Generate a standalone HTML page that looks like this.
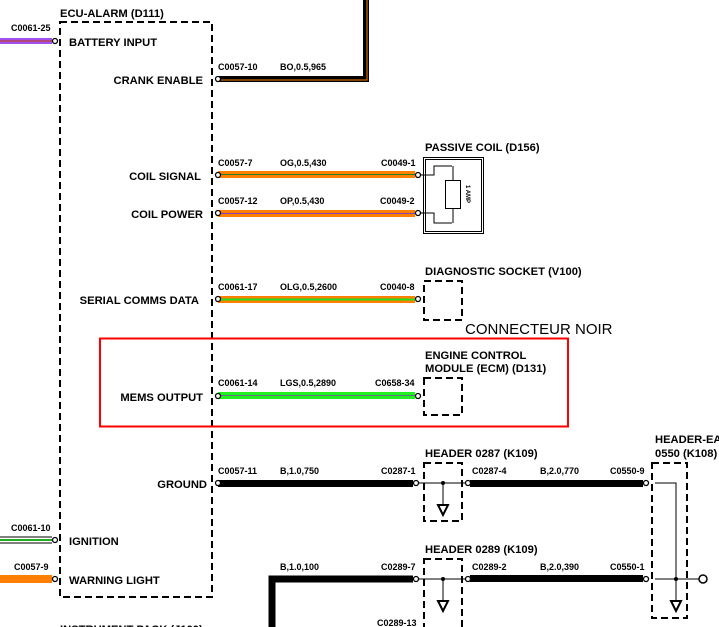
<!DOCTYPE html>
<html><head><meta charset="utf-8"><style>
html,body{margin:0;padding:0;background:#fff;}
svg{display:block;font-family:"Liberation Sans",Arial,sans-serif;font-weight:bold;}
.s{font-size:9px;}
.m{font-size:11.2px;}
</style></head><body>
<svg width="719" height="627" viewBox="0 0 719 627" xmlns="http://www.w3.org/2000/svg">
<g fill="none" stroke="#000" stroke-width="2" stroke-dasharray="7,4">
<rect x="60" y="22" width="152" height="575"/>
<rect x="424" y="281" width="38" height="39"/>
<rect x="424" y="378" width="38" height="37"/>
<rect x="424" y="463" width="38" height="58"/>
<rect x="424" y="559" width="38" height="80"/>
<rect x="652" y="463" width="35" height="155"/>
</g>
<text x="60" y="17" class="m">ECU-ALARM (D111)</text>
<!-- battery -->
<rect x="0" y="38" width="52" height="6" fill="#a050f0"/>
<line x1="0" y1="41" x2="52" y2="41" stroke="#c04000" stroke-width="1"/>
<text x="11" y="31" class="s">C0061-25</text>
<text x="69" y="46" class="m">BATTERY INPUT</text>
<!-- crank -->
<path d="M218 79 H366 V0" fill="none" stroke="#000" stroke-width="6"/>
<path d="M218 80 H367 V0" fill="none" stroke="#ff8000" stroke-width="1"/>
<text x="218" y="70" class="s">C0057-10</text>
<text x="280" y="70" class="s">BO,0.5,965</text>
<text x="203" y="84" class="m" text-anchor="end">CRANK ENABLE</text>
<!-- coil -->
<rect x="218" y="171" width="197" height="7" fill="#ff8000"/>
<line x1="218" y1="174.5" x2="415" y2="174.5" stroke="#208020" stroke-width="1"/>
<rect x="218" y="210" width="197" height="7" fill="#ff8000"/>
<line x1="218" y1="213.5" x2="415" y2="213.5" stroke="#8040c0" stroke-width="1"/>
<text x="218" y="166" class="s">C0057-7</text><text x="280" y="166" class="s">OG,0.5,430</text><text x="381" y="166" class="s">C0049-1</text>
<text x="218" y="204" class="s">C0057-12</text><text x="280" y="204" class="s">OP,0.5,430</text><text x="380" y="204" class="s">C0049-2</text>
<text x="201" y="180" class="m" text-anchor="end">COIL SIGNAL</text>
<text x="203" y="218" class="m" text-anchor="end">COIL POWER</text>
<text x="425" y="151" class="m">PASSIVE COIL (D156)</text>
<rect x="423.5" y="157.5" width="60" height="76" fill="none" stroke="#000"/>
<rect x="425.5" y="159.5" width="56" height="72" fill="none" stroke="#000"/>
<path d="M420 175 H434 V166 H452 M420 213 H434 V223 H452" fill="none" stroke="#000"/>
<rect x="445.5" y="180.5" width="15" height="28" fill="none" stroke="#000"/>
<line x1="453" y1="166" x2="453" y2="180" stroke="#000"/><line x1="453" y1="209" x2="453" y2="223" stroke="#000"/>
<text x="466" y="194" font-size="6" transform="rotate(90 466 194)" text-anchor="middle">1 AMP</text>
<!-- serial -->
<rect x="218" y="296" width="197" height="7" fill="#ff8000"/>
<line x1="218" y1="299.5" x2="415" y2="299.5" stroke="#20e020" stroke-width="2"/>
<text x="218" y="290" class="s">C0061-17</text><text x="280" y="290" class="s">OLG,0.5,2600</text><text x="380" y="290" class="s">C0040-8</text>
<text x="199" y="304" class="m" text-anchor="end">SERIAL COMMS DATA</text>
<text x="425" y="275" class="m">DIAGNOSTIC SOCKET (V100)</text>
<text x="465" y="334" font-size="15" font-weight="normal">CONNECTEUR NOIR</text>
<rect x="100" y="338.5" width="468" height="88" fill="none" stroke="#f00" stroke-width="2"/>
<!-- mems -->
<rect x="218" y="392" width="197" height="7" fill="#20f020"/>
<line x1="218" y1="395.5" x2="415" y2="395.5" stroke="#607080" stroke-width="1"/>
<text x="218" y="386" class="s">C0061-14</text><text x="280" y="386" class="s">LGS,0.5,2890</text><text x="375" y="386" class="s">C0658-34</text>
<text x="203" y="401" class="m" text-anchor="end">MEMS OUTPUT</text>
<text x="425" y="359" class="m">ENGINE CONTROL</text>
<text x="425" y="372" class="m">MODULE (ECM) (D131)</text>
<!-- ground -->
<rect x="218" y="480" width="195" height="7" fill="#000"/>
<rect x="470" y="480" width="173" height="7" fill="#000"/>
<text x="218" y="474" class="s">C0057-11</text><text x="280" y="474" class="s">B,1.0,750</text><text x="381" y="474" class="s">C0287-1</text>
<text x="472" y="474" class="s">C0287-4</text><text x="540" y="474" class="s">B,2.0,770</text><text x="610" y="474" class="s">C0550-9</text>
<text x="207" y="488" class="m" text-anchor="end">GROUND</text>
<text x="425" y="457" class="m">HEADER 0287 (K109)</text>
<text x="655" y="443" class="m">HEADER-EA</text>
<text x="655" y="457" class="m">0550 (K108)</text>
<path d="M415 483 H470 M443 483 V505 M655 483 H676 V579 M655 579 H700" fill="none" stroke="#000"/>
<circle cx="443" cy="483" r="2"/>
<path d="M438 505 h10 l-5 10z" fill="none" stroke="#000" stroke-width="2"/>
<!-- ignition / warning -->
<line x1="0" y1="537" x2="52" y2="537" stroke="#000"/><line x1="0" y1="543" x2="52" y2="543" stroke="#000"/>
<line x1="0" y1="540" x2="52" y2="540" stroke="#20b020" stroke-width="2"/>
<text x="11" y="531" class="s">C0061-10</text>
<text x="69" y="545" class="m">IGNITION</text>
<rect x="0" y="575" width="52" height="8" fill="#ff8000"/>
<text x="14" y="570" class="s">C0057-9</text>
<text x="69" y="584" class="m">WARNING LIGHT</text>
<!-- header 0289 -->
<path d="M272 627 V579 H413" fill="none" stroke="#000" stroke-width="7"/>
<rect x="470" y="575" width="173" height="7" fill="#000"/>
<text x="280" y="570" class="s">B,1.0,100</text><text x="381" y="570" class="s">C0289-7</text>
<text x="472" y="570" class="s">C0289-2</text><text x="540" y="570" class="s">B,2.0,390</text><text x="610" y="570" class="s">C0550-1</text>
<text x="377" y="626" class="s">C0289-13</text>
<text x="425" y="553" class="m">HEADER 0289 (K109)</text>
<path d="M415 579 H470 M443 579 V601 M676 579 V601" fill="none" stroke="#000"/>
<circle cx="443" cy="579" r="2"/><circle cx="676" cy="579" r="2"/>
<path d="M438 601 h10 l-5 10z M671 601 h10 l-5 10z" fill="none" stroke="#000" stroke-width="2"/>
<circle cx="703" cy="579" r="4" fill="#fff" stroke="#000" stroke-width="1.5"/>
<text x="60" y="633" class="m">INSTRUMENT PACK (J100)</text>
<!-- connector circles -->
<g fill="#fff" stroke="#000" stroke-width="1.3">
<circle cx="55" cy="41" r="2.5"/><circle cx="218" cy="79" r="2.5"/>
<circle cx="218" cy="175" r="2.5"/><circle cx="218" cy="213" r="2.5"/>
<circle cx="418" cy="175" r="2.5"/><circle cx="418" cy="213" r="2.5"/>
<circle cx="218" cy="299" r="2.5"/><circle cx="418" cy="299" r="2.5"/>
<circle cx="218" cy="396" r="2.5"/><circle cx="418" cy="396" r="2.5"/>
<circle cx="218" cy="483" r="2.5"/><circle cx="416" cy="483" r="2.5"/>
<circle cx="468" cy="483" r="2.5"/><circle cx="646" cy="483" r="2.5"/>
<circle cx="55" cy="540" r="2.5"/><circle cx="55" cy="579" r="2.5"/>
<circle cx="416" cy="579" r="2.5"/><circle cx="468" cy="579" r="2.5"/>
<circle cx="646" cy="579" r="2.5"/>
</g>
</svg>
</body></html>
